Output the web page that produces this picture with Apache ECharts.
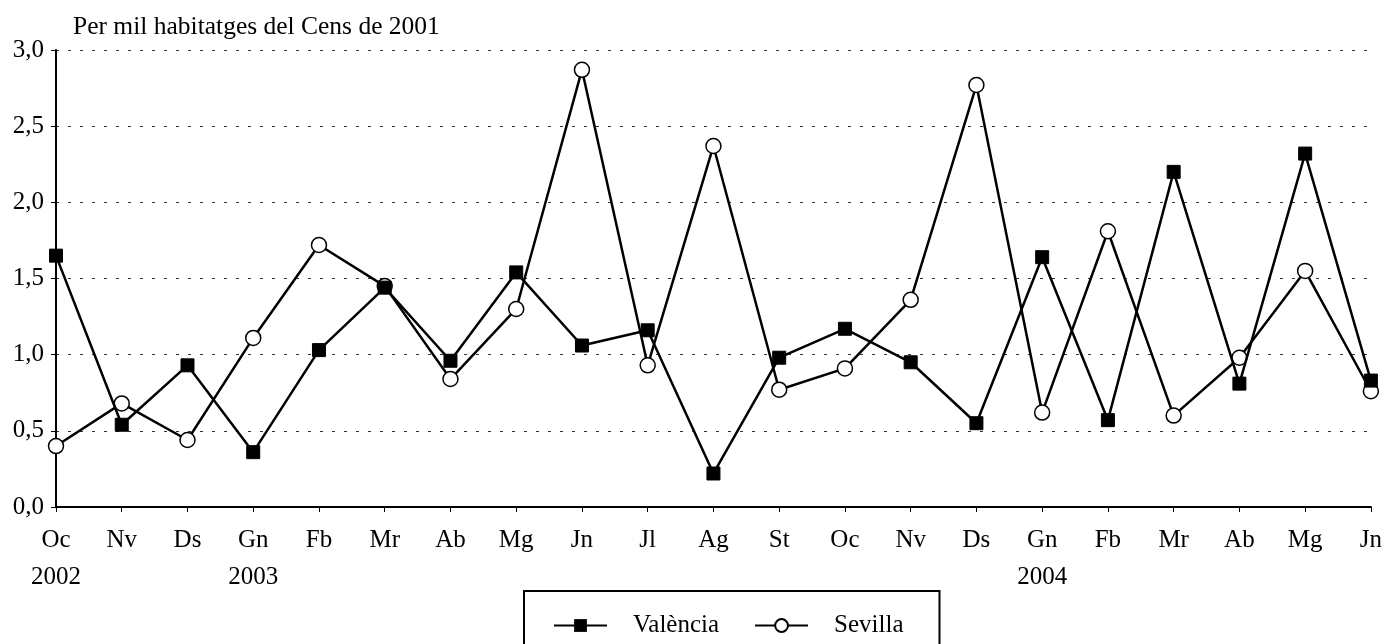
<!DOCTYPE html>
<html>
<head>
<meta charset="utf-8">
<script src="https://cdn.jsdelivr.net/npm/echarts@6/dist/echarts.min.js"></script>
<style>
  html, body { margin: 0; padding: 0; background: #fff; }
  #chart { width: 1385px; height: 644px; }
</style>
</head>
<body>
<div id="chart"></div>
<script>
const months = ['Oc', 'Nv', 'Ds', 'Gn', 'Fb', 'Mr', 'Ab', 'Mg', 'Jn', 'Jl', 'Ag', 'St', 'Oc', 'Nv', 'Ds', 'Gn', 'Fb', 'Mr', 'Ab', 'Mg', 'Jn']
const years = ['2002', '', '', '2003', '', '', '', '', '', '', '', '', '', '', '', '2004', '', '', '', '', '']
const valencia = [1.65, 0.54, 0.93, 0.36, 1.03, 1.44, 0.96, 1.54, 1.06, 1.16, 0.22, 0.98, 1.17, 0.95, 0.55, 1.64, 0.57, 2.20, 0.81, 2.32, 0.83]
const sevilla = [0.40, 0.68, 0.44, 1.11, 1.72, 1.45, 0.84, 1.30, 2.87, 0.93, 2.37, 0.77, 0.91, 1.36, 2.77, 0.62, 1.81, 0.60, 0.98, 1.55, 0.76]

const font = 'Liberation Serif'
const chart = echarts.init(document.getElementById('chart'))

chart.setOption({
  animation: false,
  textStyle: { fontFamily: font, color: '#000' },
  title: {
    text: 'Per mil habitatges del Cens de 2001',
    left: 68,
    top: 9,
    textStyle: { fontFamily: font, fontSize: 25.5, fontWeight: 'normal', color: '#000' },
  },
  grid: { left: 56, right: 14, top: 50, bottom: 137 },
  legend: {
    bottom: -36,
    left: 524,
    padding: [22, 36, 42, 29],
    borderColor: '#000',
    borderWidth: 2,
    itemWidth: 53,
    itemHeight: 16,
    itemGap: 35,
    textStyle: { fontFamily: font, fontSize: 25, color: '#000', padding: [0, 0, 0, 21] },
    data: ['València', 'Sevilla'],
  },
  xAxis: {
    type: 'category',
    data: months,
    boundaryGap: false,
    axisLine: { lineStyle: { color: '#000', width: 2 } },
    axisTick: { length: 5, lineStyle: { color: '#000', width: 1 } },
    axisLabel: {
      fontFamily: font,
      fontSize: 25,
      color: '#000',
      margin: 15,
      lineHeight: 37,
      interval: 0,
      formatter: (v, i) => (years[i] ? v + '\n' + years[i] : v),
    },
  },
  yAxis: {
    type: 'value',
    min: 0,
    max: 3,
    interval: 0.5,
    axisLine: { show: true, lineStyle: { color: '#000', width: 2 } },
    axisTick: { show: true, length: 5, lineStyle: { color: '#000', width: 1 } },
    axisLabel: {
      fontFamily: font,
      fontSize: 25,
      color: '#000',
      margin: 12,
      formatter: (v) => v.toFixed(1).replace('.', ','),
    },
    splitLine: { lineStyle: { color: '#333', width: 1, type: [3, 9] } },
  },
  series: [
    {
      name: 'València',
      type: 'line',
      data: valencia,
      symbol: 'rect',
      symbolSize: 13,
      lineStyle: { color: '#000', width: 2.5 },
      itemStyle: { color: '#000', borderColor: '#000' },
      z: 3,
    },
    {
      name: 'Sevilla',
      type: 'line',
      data: sevilla,
      symbol: 'circle',
      symbolSize: 15,
      showAllSymbol: true,
      lineStyle: { color: '#000', width: 2.5 },
      itemStyle: { color: '#fff', borderColor: '#000', borderWidth: 1.5 },
      z: 2,
    },
  ],
})
</script>
</body>
</html>
